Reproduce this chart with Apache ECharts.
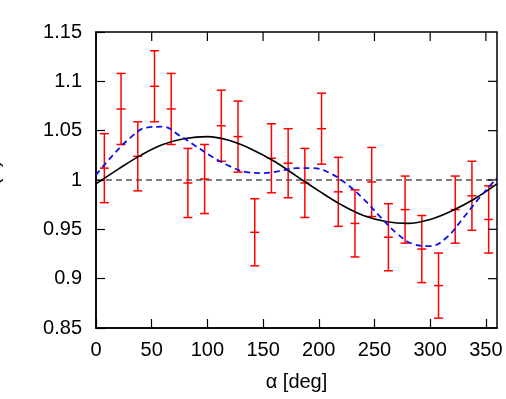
<!DOCTYPE html>
<html>
<head>
<meta charset="utf-8">
<script src="https://cdn.jsdelivr.net/npm/echarts@6/dist/echarts.min.js"></script>
<style>
  html, body { margin: 0; padding: 0; background: #fff; }
  #chart { width: 506px; height: 399px; }
</style>
</head>
<body>
<div id="chart"></div>
<script>
// measured points (alpha in deg), ratio and its error
const alphaDeg = [7.5, 22.5, 37.5, 52.5, 67.5, 82.5, 97.5, 112.5, 127.5, 142.5, 157.5, 172.5,
                  187.5, 202.5, 217.5, 232.5, 247.5, 262.5, 277.5, 292.5, 307.5, 322.5, 337.5, 352.5]
const ratio = [1.012, 1.072, 1.024, 1.095, 1.072, 0.997, 1.001, 1.055, 1.044, 0.947, 1.022, 1.017,
               0.997, 1.052, 0.988, 0.956, 0.998, 0.942, 0.970, 0.930, 0.893, 0.970, 0.984, 0.960]
const ratioErr = [0.035, 0.036, 0.035, 0.036, 0.036, 0.035, 0.035, 0.036, 0.036, 0.034, 0.035, 0.035,
                  0.035, 0.036, 0.035, 0.034, 0.035, 0.034, 0.034, 0.034, 0.033, 0.034, 0.035, 0.034]

// solid black curve
const solidAlpha = [0, 20, 40, 60, 80, 100, 120, 140, 160, 180, 200, 220, 240, 260, 280, 300, 320, 340, 360]
const solidRatio = [0.996, 1.011, 1.025, 1.036, 1.042, 1.044, 1.040, 1.031, 1.019, 1.004, 0.989, 0.975,
                    0.964, 0.958, 0.956, 0.960, 0.969, 0.981, 0.996]

// dashed blue curve
const dashAlpha = [0, 15, 30, 45, 60, 75, 90, 105, 120, 135, 150, 165, 180, 195, 210, 225, 240, 255,
                   270, 285, 300, 315, 330, 345, 360]
const dashRatio = [1.005, 1.025, 1.042, 1.053, 1.054, 1.045, 1.034, 1.023, 1.014, 1.008, 1.007, 1.009,
                   1.012, 1.012, 1.007, 0.996, 0.981, 0.963, 0.946, 0.935, 0.933, 0.942, 0.962, 0.983, 1.002]

const xTicks = [0, 360]
const yTicks = [0.85, 1.15]
// inner tick marks on the top and right edges
const xTickVals = [50, 100, 150, 200, 250, 300, 350]
const yTickVals = [0.9, 0.95, 1, 1.05, 1.1]

var myChart = echarts.init(document.getElementById('chart'))
const font = 'Liberation Sans'
const frameAxis = {
    axisLine: { show: true, onZero: false, lineStyle: { color: '#000', width: 1.5 } },
    axisTick: { show: true, inside: true, length: 9, lineStyle: { color: '#000', width: 1.2 } },
    splitLine: { show: false }
}
const tickLen = 9
const tickStyle = { stroke: '#000', lineWidth: 1.2 }

const option = {
    animation: false,
    backgroundColor: '#fff',
    grid: {
        left: 96, right: 9, top: 32, bottom: 71, containLabel: false, outerBoundsMode: 'none',
        show: true, borderColor: '#000', borderWidth: 1.5
    },
    xAxis: {
        type: 'value', min: xTicks[0], max: xTicks[1], interval: 50, position: 'bottom',
        name: 'α [deg]', nameLocation: 'middle', nameGap: 44,
        nameTextStyle: { fontFamily: font, fontSize: 20, color: '#000' },
        axisLabel: { fontFamily: font, fontSize: 20, color: '#000', margin: 12, showMaxLabel: false },
        ...frameAxis
    },
    yAxis: {
        type: 'value', min: yTicks[0], max: yTicks[1], interval: 0.05, position: 'left',
        name: 'R(α)', nameLocation: 'middle', nameGap: 93,
        nameTextStyle: { fontFamily: font, fontSize: 20, color: '#000' },
        axisLabel: {
            fontFamily: font, fontSize: 20, color: '#000', margin: 14,
            formatter: (v) => String(Math.round(v * 100) / 100)
        },
        ...frameAxis
    },
    series: [
        {
            type: 'line',
            data: [[xTicks[0], 1], [xTicks[1], 1]],
            symbol: 'none',
            lineStyle: { color: '#000', width: 1, type: [6, 4] },
            z: 1
        },
        {
            // ticks on the top edge
            type: 'custom',
            clip: false,
            data: xTickVals.map((v) => [v, yTicks[1]]),
            renderItem: (params, api) => {
                const t = api.coord([api.value(0), yTicks[1]])
                return { type: 'line', shape: { x1: t[0], y1: t[1], x2: t[0], y2: t[1] + tickLen }, style: tickStyle }
            },
            z: 5
        },
        {
            // ticks on the right edge
            type: 'custom',
            clip: false,
            data: yTickVals.map((v) => [xTicks[1], v]),
            renderItem: (params, api) => {
                const r = api.coord([xTicks[1], api.value(1)])
                return { type: 'line', shape: { x1: r[0], y1: r[1], x2: r[0] - tickLen, y2: r[1] }, style: tickStyle }
            },
            z: 5
        },
        {
            type: 'custom',
            data: alphaDeg.map((a, i) => [a, ratio[i], ratioErr[i]]),
            renderItem: (params, api) => {
                const x = api.value(0), y = api.value(1), e = api.value(2)
                const top = api.coord([x, y + e])
                const bot = api.coord([x, y - e])
                const mid = api.coord([x, y])
                const w = 4.5
                const style = { stroke: '#f00', lineWidth: 1.5 }
                return {
                    type: 'group',
                    children: [
                        { type: 'line', shape: { x1: top[0], y1: top[1], x2: bot[0], y2: bot[1] }, style },
                        { type: 'line', shape: { x1: top[0] - w, y1: top[1], x2: top[0] + w, y2: top[1] }, style },
                        { type: 'line', shape: { x1: bot[0] - w, y1: bot[1], x2: bot[0] + w, y2: bot[1] }, style },
                        { type: 'line', shape: { x1: mid[0] - w, y1: mid[1], x2: mid[0] + w, y2: mid[1] }, style }
                    ]
                }
            },
            z: 2
        },
        {
            type: 'line',
            data: solidAlpha.map((a, i) => [a, solidRatio[i]]),
            smooth: 0.4,
            symbol: 'none',
            lineStyle: { color: '#000', width: 1.6 },
            z: 3
        },
        {
            type: 'line',
            data: dashAlpha.map((a, i) => [a, dashRatio[i]]),
            smooth: 0.4,
            symbol: 'none',
            lineStyle: { color: '#1010e8', width: 1.8, type: [6, 4] },
            z: 4
        }
    ]
}
myChart.setOption(option)
</script>
</body>
</html>
